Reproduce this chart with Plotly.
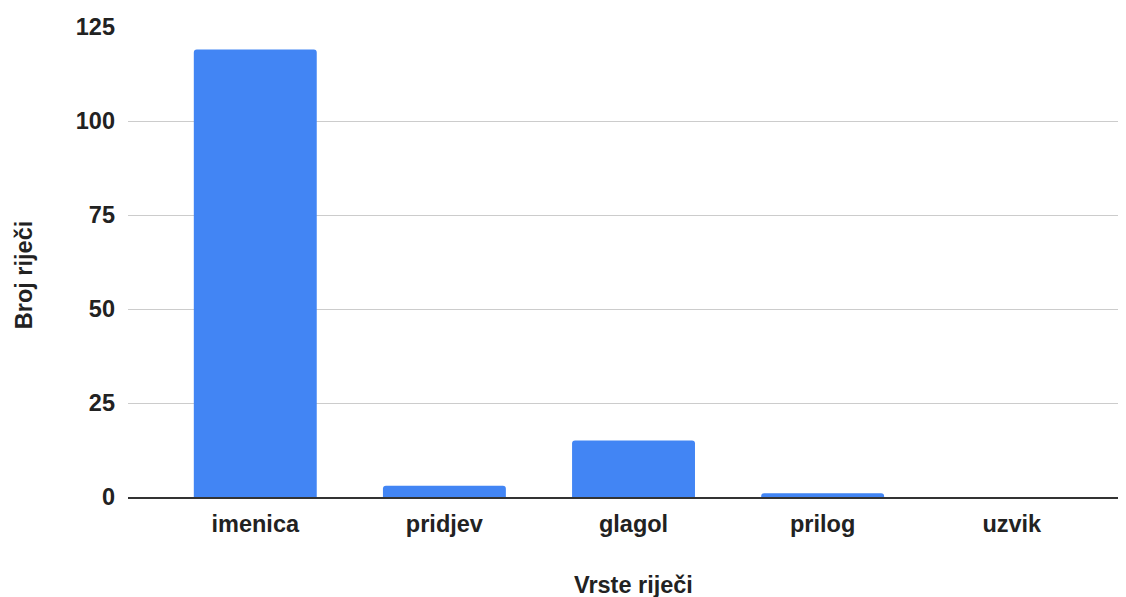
import plotly.graph_objects as go

categories = ["imenica", "pridjev", "glagol", "prilog", "uzvik"]
counts = [119, 3, 15, 1, 0]
y_ticks = [0, 25, 50, 75, 100, 125]

FONT = "Liberation Sans, Arial, sans-serif"
SIZE = 23.5
COLOR = "#222222"

fig = go.Figure(
    go.Bar(
        x=categories,
        y=counts,
        marker=dict(color="#4285F4", line=dict(width=0), cornerradius=3),
        width=0.65,
    )
)

fig.update_layout(
    width=1118,
    height=589,
    margin=dict(l=120, r=0, t=19, b=100),
    paper_bgcolor="white",
    plot_bgcolor="white",
    showlegend=False,
    font=dict(family=FONT, size=SIZE, color=COLOR),
    annotations=[
        dict(
            text="<b>Vrste riječi</b>",
            xref="paper", yref="paper", x=0.507, y=0,
            xanchor="center", yanchor="middle", yshift=-88,
            showarrow=False,
            font=dict(family=FONT, size=SIZE, color=COLOR),
        ),
        dict(
            text="<b>Broj riječi</b>",
            xref="paper", yref="paper", x=0, y=0.472,
            xanchor="center", yanchor="middle", xshift=-104,
            textangle=-90,
            showarrow=False,
            font=dict(family=FONT, size=SIZE, color=COLOR),
        ),
    ],
)

fig.update_xaxes(
    type="category",
    range=[-0.673, 4.604],
    showgrid=False,
    showline=True,
    linecolor="#333333",
    linewidth=2,
    ticks="",
    ticklabelstandoff=5,
    tickfont=dict(family=FONT, size=SIZE, color=COLOR, weight="bold"),
)

fig.update_yaxes(
    range=[0, 125],
    tickvals=y_ticks,
    showgrid=True,
    gridcolor="#cccccc",
    gridwidth=1,
    zeroline=False,
    showline=False,
    ticks="",
    ticklabelstandoff=12,
    tickfont=dict(family=FONT, size=SIZE, color=COLOR, weight="bold"),
)

fig.write_html("out.html")
